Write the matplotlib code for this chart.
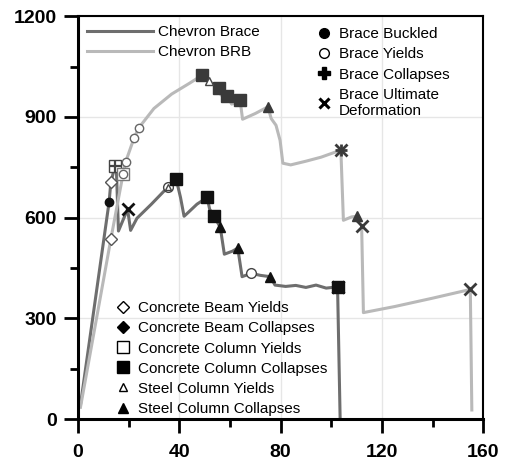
import matplotlib.pyplot as plt
from matplotlib.lines import Line2D
from matplotlib.ticker import MultipleLocator

plt.rcParams['font.family'] = ['Liberation Sans', 'DejaVu Sans']

# chevron brace pushover curve
brace_x = [1, 12.3, 13, 14.6, 15.2, 16, 19.6, 20.8, 23.3, 29, 35.4, 38.8, 40.5, 41.9,
           43.5, 47, 51, 52, 53.7, 56.2, 57.8, 61, 63.1, 64.8, 68.4, 72, 75.9, 77.8,
           82, 86, 90, 94, 98, 101.6, 102.5, 103.5]
brace_y = [42, 646, 705, 753, 740, 560, 625, 562, 598, 640, 690, 714, 660, 604,
           615, 640, 660, 625, 604, 571, 491, 500, 509, 424, 434, 428, 424, 399,
           395, 398, 392, 399, 390, 393, 393, 5]

# chevron BRB pushover curve
brb_x = [1, 13, 17.8, 18.8, 22.1, 24, 30, 37, 44, 49, 51.6, 55.6, 56.5, 58.9, 60.7,
         64, 65, 70, 75, 76.3, 78.2, 79.8, 80.9, 84, 90, 96, 103.8, 104.8, 108,
         110, 112, 112.7, 125, 140, 154.9, 155.5]
brb_y = [35, 536, 729, 765, 836, 867, 925, 968, 1000, 1024, 1007, 987, 965, 962, 938,
         950, 893, 910, 930, 895, 875, 830, 762, 757, 768, 780, 801, 592, 602,
         604, 575, 317, 335, 360, 386, 27]

# event markers on the brace curve
br_buckle = ([12.3], [646])
br_beam_yield = ([13], [705])
br_col_yield = ([14.6], [753])
br_collapse = ([14.6], [753])
br_ult = ([19.6, 102.5], [625, 393])
br_yield = ([35.4, 68.4], [690, 434])
br_steel_yield = ([35.4], [690])
br_col_collapse = ([38.8, 51, 53.7, 102.5], [714, 660, 604, 393])
br_steel_collapse = ([56.2, 63.1, 75.9], [571, 509, 424])

# event markers on the BRB curve
brb_beam_yield = ([13], [536])
brb_col_yield = ([17.8], [729])
brb_yield = ([17.8, 18.8, 22.1, 24], [729, 765, 836, 867])
brb_col_collapse = ([49, 55.6, 58.9, 64], [1024, 987, 962, 950])
brb_steel_yield = ([51.6], [1007])
brb_steel_collapse = ([75, 110], [930, 604])
brb_ult = ([103.8, 112, 154.9], [801, 575, 386])
brb_collapse = ([103.8], [801])

c_brace = '#6e6e6e'
c_brb = '#b9b9b9'
k1 = '#111111'
k2 = '#444444'

fig = plt.figure(figsize=(5.06, 4.62), dpi=100)
ax = fig.add_axes([0.154, 0.093, 0.801, 0.872])

l1, = ax.plot(brace_x, brace_y, color=c_brace, lw=2.2, zorder=2)
l2, = ax.plot(brb_x, brb_y, color=c_brb, lw=2.2, zorder=2)


def mk(pts, marker, col, filled, size=7, mew=1.0):
    ax.plot(pts[0], pts[1], ls='none', marker=marker, ms=size,
            mfc=col if filled else 'white', mec=col, mew=mew, zorder=4)


mk(br_buckle, 'o', k1, True, 6)
mk(br_beam_yield, 'D', '#555555', False, 6)
mk(br_col_yield, 's', k2, False, 8)
mk(br_collapse, '+', k2, True, 8, 1.6)
mk(br_yield, 'o', k2, False, 7)
mk(br_steel_yield, '^', k2, False, 5)
mk(br_ult, 'x', k1, True, 8, 2.0)
mk(br_col_collapse, 's', k1, True, 8)
mk(br_steel_collapse, '^', k1, True, 7)

mk(brb_beam_yield, 'D', '#555555', False, 6)
mk(brb_col_yield, 's', '#777777', False, 8)
mk(brb_yield, 'o', '#666666', False, 6)
mk(brb_col_collapse, 's', '#3a3a3a', True, 8)
mk(brb_steel_yield, '^', k2, False, 6)
mk(brb_steel_collapse, '^', '#3a3a3a', True, 7)
mk(brb_ult, 'x', '#3a3a3a', True, 8, 2.0)
mk(brb_collapse, '+', '#3a3a3a', True, 8, 2.0)

ax.set_xlim(0, 160)
ax.set_ylim(0, 1200)
ax.xaxis.set_major_locator(MultipleLocator(40))
ax.xaxis.set_minor_locator(MultipleLocator(20))
ax.yaxis.set_major_locator(MultipleLocator(300))
ax.yaxis.set_minor_locator(MultipleLocator(150))
ax.grid(True, which='major', color='#e6e6e6', lw=1.0, zorder=0)
ax.tick_params(which='major', direction='out', length=10, width=2, labelsize=14)
ax.tick_params(which='minor', direction='out', length=6, width=2)
ax.tick_params(axis='x', which='major', pad=8)
ax.tick_params(axis='y', which='major', pad=5)
for lab in ax.get_xticklabels() + ax.get_yticklabels():
    lab.set_fontweight('bold')
ax.spines['left'].set_linewidth(2.2)
ax.spines['bottom'].set_linewidth(2.2)
ax.spines['top'].set_linewidth(1.5)
ax.spines['right'].set_linewidth(1.5)

leg_kw = dict(frameon=False, fontsize=11, labelspacing=0.4, borderaxespad=0.2)

leg1 = ax.legend([l1, l2], ['Chevron Brace', 'Chevron BRB'], loc='upper left',
                 handlelength=4.3, handletextpad=0.35, **leg_kw)
ax.add_artist(leg1)


def h(marker, filled, size=7, mew=1.0):
    return Line2D([], [], ls='none', marker=marker, ms=size, color='black',
                  mfc='black' if filled else 'white', mec='black', mew=mew)


leg2 = ax.legend([h('o', True), h('o', False), h('P', True, 8), h('x', True, 7, 2.2)],
                 ['Brace Buckled', 'Brace Yields', 'Brace Collapses',
                  'Brace Ultimate\nDeformation'],
                 loc='upper left', bbox_to_anchor=(0.565, 0.995),
                 handlelength=1.0, handletextpad=0.5, **leg_kw)
ax.add_artist(leg2)

ax.legend([h('D', False, 6), h('D', True, 6), h('s', False, 8), h('s', True, 8),
           h('^', False, 6), h('^', True, 7)],
          ['Concrete Beam Yields', 'Concrete Beam Collapses', 'Concrete Column Yields',
           'Concrete Column Collapses', 'Steel Column Yields', 'Steel Column Collapses'],
          loc='lower left', bbox_to_anchor=(0.07, -0.015),
          handlelength=1.0, handletextpad=0.5, **leg_kw)

fig.savefig('out.png', dpi=100)
